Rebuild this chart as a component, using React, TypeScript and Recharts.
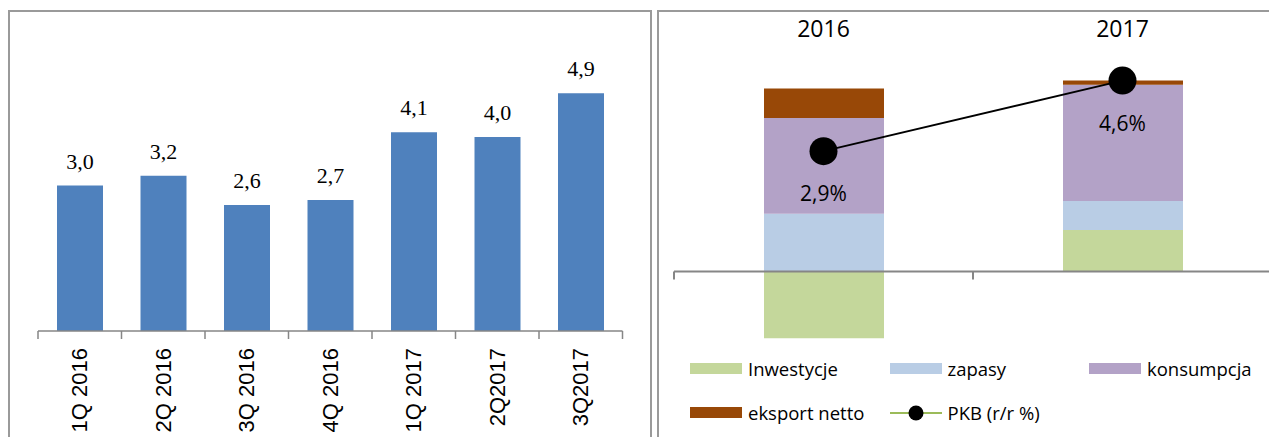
import React from "react";
import {
  BarChart,
  ComposedChart,
  Bar,
  Line,
  XAxis,
  YAxis,
  LabelList,
  ReferenceLine,
  Legend,
} from "recharts";

// left panel: GDP growth by quarter
const quarters = ["1Q 2016", "2Q 2016", "3Q 2016", "4Q 2016", "1Q 2017", "2Q2017", "3Q2017"];
const gdpQuarterly = [3.0, 3.2, 2.6, 2.7, 4.1, 4.0, 4.9];

// right panel: contributions to growth
const years = ["2016", "2017"];
const inwestycje = [-1.61, 1.0];
const zapasy = [1.39, 0.7];
const konsumpcja = [2.31, 2.8];
const eksportNetto = [0.71, 0.1];
const pkb = [2.9, 4.6];

const seriesNames = ["Inwestycje", "zapasy", "konsumpcja", "eksport netto", "PKB (r/r %)"];
const seriesColors = ["#C4D79B", "#B9CDE5", "#B3A2C7", "#984807", "#000000"];

const AXIS = "#868686";
const SANS = "'Open Sans', sans-serif";

const leftData = quarters.map((q, i) => ({ quarter: q, value: gdpQuarterly[i] }));
const rightData = years.map((y, i) => ({
  year: y,
  inw: inwestycje[i],
  zap: zapasy[i],
  kons: konsumpcja[i],
  eks: eksportNetto[i],
  pkb: pkb[i],
}));

const comma = (v: number) => v.toFixed(1).replace(".", ",");

function QuarterTick(props: any) {
  const { x, y, payload, index } = props;
  const half = payload.offset ?? 0;
  const axisY = y - 8;
  return (
    <g>
      <line x1={x - half} x2={x - half} y1={axisY} y2={axisY + 8} stroke={AXIS} strokeWidth={1.5} />
      {index === quarters.length - 1 && (
        <line x1={x + half} x2={x + half} y1={axisY} y2={axisY + 8} stroke={AXIS} strokeWidth={1.5} />
      )}
      <text
        x={x}
        y={y + 9}
        transform={`rotate(-90 ${x} ${y + 9})`}
        textAnchor="end"
        dominantBaseline="central"
        fontFamily="'Liberation Sans', Arial, sans-serif"
        fontSize={22}
        fill="#000"
      >
        {payload.value}
      </text>
    </g>
  );
}

// zero line with tick marks at the category boundaries
function ZeroAxis(props: any) {
  const { x1, x2, y1 } = props;
  const step = (x2 - x1) / years.length;
  const edges = Array.from({ length: years.length + 1 }, (_, k) => x1 + k * step);
  return (
    <g>
      <line x1={x1} x2={x2} y1={y1} y2={y1} stroke={AXIS} strokeWidth={2} />
      {edges.map((ex) => (
        <line key={ex} x1={ex} x2={ex} y1={y1} y2={y1 + 8} stroke={AXIS} strokeWidth={2} />
      ))}
    </g>
  );
}

function PkbLabel(props: any) {
  const { x, y, value } = props;
  return (
    <text x={x} y={y + 42} textAnchor="middle" dominantBaseline="central" fontFamily={SANS} fontSize={21} fill="#000">
      {comma(value)}%
    </text>
  );
}

function ContribLegend() {
  return (
    <div style={{ position: "relative", width: 620, height: 0, fontFamily: SANS, fontSize: 18.5, color: "#000" }}>
      {seriesNames.map((name, i) => {
        const col = i % 3;
        const row = Math.floor(i / 3);
        const left = 33 + col * 199.5;
        const cy = 360.7 + row * 43.8;
        const isLine = i === seriesNames.length - 1;
        return (
          <div key={name}>
            {isLine ? (
              <svg style={{ position: "absolute", left, top: cy - 8 }} width={52} height={16}>
                <line x1={0} x2={52} y1={8} y2={8} stroke="#9BBB59" strokeWidth={2} />
                <circle cx={26} cy={8} r={7.5} fill="#000" />
              </svg>
            ) : (
              <div
                style={{
                  position: "absolute",
                  left,
                  top: cy - 5.5,
                  width: 52,
                  height: 11,
                  background: seriesColors[i],
                }}
              />
            )}
            <div style={{ position: "absolute", left: left + 58, top: cy - 13, lineHeight: "26px", whiteSpace: "nowrap" }}>
              {name}
            </div>
          </div>
        );
      })}
    </div>
  );
}

export default function App() {
  return (
    <div style={{ position: "relative", width: 1269, height: 437, marginBottom: -8, overflow: "hidden" }}>
      <div
        style={{
          position: "absolute",
          left: 0,
          top: 2,
          width: 644,
          height: 460,
          border: "2px solid #9a9a9a",
          boxSizing: "border-box",
        }}
      />
      <div
        style={{
          position: "absolute",
          left: 649,
          top: 2,
          width: 660,
          height: 460,
          border: "2px solid #9a9a9a",
          boxSizing: "border-box",
        }}
      />

      <div style={{ position: "absolute", left: 0, top: 0 }}>
        <BarChart width={644} height={437} data={leftData} margin={{ top: 32, right: 29.5, left: 30, bottom: 0 }}>
          <XAxis
            dataKey="quarter"
            interval={0}
            height={114}
            tickSize={8}
            tickMargin={0}
            tickLine={false}
            axisLine={{ stroke: AXIS, strokeWidth: 1.5 }}
            tick={<QuarterTick />}
          />
          <YAxis hide domain={[0, 6]} />
          <Bar dataKey="value" fill="#4F81BD" barSize={46} isAnimationActive={false}>
            <LabelList
              dataKey="value"
              position="top"
              offset={17}
              formatter={(v: any) => comma(Number(v))}
              style={{ fontFamily: "'Liberation Serif', serif", fontSize: 22, fill: "#000" }}
            />
          </Bar>
        </BarChart>
      </div>

      <div style={{ position: "absolute", left: 649, top: 0 }}>
        <ComposedChart
          width={620}
          height={437}
          data={rightData}
          stackOffset="sign"
          margin={{ top: 0, right: 5, left: 17, bottom: 90.5 }}
        >
          <XAxis
            dataKey="year"
            orientation="top"
            height={56}
            tickSize={0}
            tickMargin={27}
            tickLine={false}
            axisLine={false}
            tick={{ fontFamily: SANS, fontSize: 23, fill: "#000" }}
          />
          <YAxis hide domain={[-2, 5]} allowDataOverflow />
          <Bar dataKey="inw" name={seriesNames[0]} stackId="c" fill={seriesColors[0]} barSize={120} isAnimationActive={false} />
          <Bar dataKey="zap" name={seriesNames[1]} stackId="c" fill={seriesColors[1]} barSize={120} isAnimationActive={false} />
          <Bar dataKey="kons" name={seriesNames[2]} stackId="c" fill={seriesColors[2]} barSize={120} isAnimationActive={false} />
          <Bar dataKey="eks" name={seriesNames[3]} stackId="c" fill={seriesColors[3]} barSize={120} isAnimationActive={false} />
          <ReferenceLine y={0} shape={(p: any) => <ZeroAxis {...p} />} />
          <Line
            dataKey="pkb"
            name={seriesNames[4]}
            stroke="#000"
            strokeWidth={2}
            dot={{ r: 14, fill: "#000", stroke: "#000", strokeWidth: 0 }}
            isAnimationActive={false}
          >
            <LabelList dataKey="pkb" content={<PkbLabel />} />
          </Line>
          <Legend
            content={<ContribLegend />}
            wrapperStyle={{ left: 0, top: 0, bottom: "auto", width: 620, height: 0 }}
          />
        </ComposedChart>
      </div>
    </div>
  );
}
